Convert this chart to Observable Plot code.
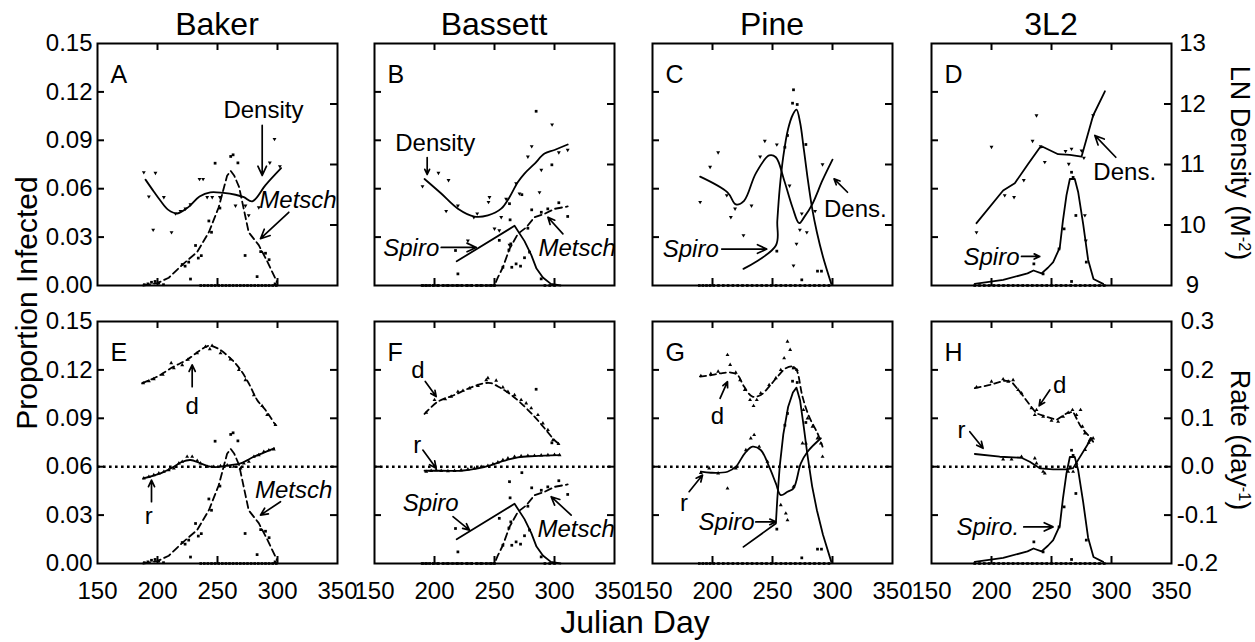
<!DOCTYPE html>
<html><head><meta charset="utf-8">
<script src="https://cdn.jsdelivr.net/npm/d3@7"></script>
<script src="https://cdn.jsdelivr.net/npm/@observablehq/plot@0.6"></script>
<style>
body{margin:0;background:#fff;font-family:"Liberation Sans",Arial,sans-serif;color:#000;}
#wrap{position:relative;width:1255px;height:642px;overflow:hidden;background:#fff;}
.lbl{position:absolute;white-space:nowrap;line-height:1;}
.title{position:absolute;width:240px;text-align:center;font-size:32px;line-height:1;top:8px;}
sup{font-size:0.6em;vertical-align:0.55em;line-height:0;}
</style></head><body><div id="wrap"></div>
<script>
// ---------- DATA (x = Julian day) ----------
const siteTitles = ["Baker", "Bassett", "Pine", "3L2"];
const xTickValues = [150, 200, 250, 300, 350];
const propTicks = [0, 0.03, 0.06, 0.09, 0.12, 0.15];
const densTicks = [9, 10, 11, 12, 13];
const rateTicks = [-0.2, -0.1, 0.0, 0.1, 0.2, 0.3];

// Baker (A, E)
const bakerDensLine = [[190,10.75],[197,10.55],[202.5,10.40],[209,10.25],[216.4,10.19],[226,10.30],[235,10.47],[244,10.54],[255,10.53],[265,10.50],[272,10.46],[279,10.39],[290,10.66],[303,10.94]];
const bakerDensPts = [[188.6,10.87],[198.3,10.86],[192.8,10.47],[196.4,9.92],[211.7,9.88],[205.3,10.46],[215,10.19],[219.2,10.23],[223.3,10.27],[227.5,10.34],[235,10.76],[238,10.76],[241.4,10.46],[245.6,10.46],[252,10.46],[265,10.32],[273.3,10.32],[276,10.16],[284.4,10.29],[293.6,11.03],[297.5,11.42],[302,10.97]];
const bakerMetschLine = [[188,0],[200,0.0015],[209.4,0.0048],[220.6,0.0128],[233,0.0207],[242.8,0.033],[251,0.0485],[258,0.068],[261,0.071],[264,0.068],[268,0.061],[276,0.033],[284.4,0.025],[291.4,0.015],[299.7,0.002]];
const bakerMetschPts = [[189,0.0005],[192,0.001],[195,0.002],[198,0.0025],[201,0.0015],[205,0.0005],[220.6,0.013],[223,0.012],[226,0.0145],[227.5,0.004],[231.7,0.0248],[234,0.017],[236.5,0.0185],[242.8,0.040],[245,0.033],[248,0.0758],[252,0.048],[261,0.080],[263,0.081],[267,0.076],[273,0.0186],[283,0.0055],[286,0.021],[290,0.020],[293,0.016],[298,0.001]];
const bakerZeros = [236,239,242,245,248,251,254,257,260,263,266,269,272,275,278,281,284,287,290,293,296,299];
const bakerDLine = [[187.2,0.1725],[199.7,0.186],[213.6,0.207],[224.7,0.221],[235.8,0.241],[242.8,0.2497],[249.7,0.245],[260.8,0.224],[269.2,0.2],[276,0.1725],[283,0.138],[290,0.117],[298.3,0.086]];
const bakerDPts = [[188.1,0.1725],[192.8,0.177],[196.9,0.181],[204.4,0.190],[211.4,0.214],[213.6,0.2036],[220.6,0.210],[225.3,0.221],[233,0.2346],[240,0.248],[243.6,0.243],[245.5,0.250],[252.5,0.2346],[260.8,0.222],[267.8,0.200],[273.3,0.179],[280.3,0.148],[287.2,0.1256],[291.4,0.107],[298.3,0.0863]];
const bakerRLine = [[188.1,-0.0241],[202.5,-0.0137],[213.6,0],[220.6,0.0103],[227.5,0.0138],[235.8,0.0069],[244.2,0],[251,-0.0005],[260.8,0.0034],[269.2,0.0069],[280.3,0.0206],[288.6,0.029],[297.2,0.038]];
const bakerRPts = [[188.6,-0.0241],[192.8,-0.0208],[196.9,-0.0173],[201.1,-0.0137],[205.3,-0.0103],[209.4,-0.0069],[213.6,-0.0034],[217.8,0.0069],[220.6,0.0103],[224.7,0.0206],[228.9,0.0206],[233.1,0.0124],[235.8,0.0069],[241.4,0],[246.9,0],[252.5,0.0014],[258.1,0.0028],[263.6,0],[269.2,-0.0034],[271.9,0.0069],[276.1,0.0103],[280.3,0.0206],[284.4,0.0241],[288.6,0.031],[292.8,0.034],[296.9,0.036]];

// Bassett (B, F)
const bassettDensLine = [[191.7,10.76],[205.6,10.52],[219.5,10.27],[233.3,10.14],[244.5,10.16],[255.6,10.27],[262.5,10.46],[269.5,10.71],[275,10.85],[283.3,11.01],[291.7,11.18],[300,11.24],[311,11.33]];
const bassettDensPts = [[190,10.64],[203.3,10.86],[211.7,10.74],[209.7,10.23],[219.5,10.32],[227.8,9.74],[232.8,10.13],[235.6,10.19],[245,10.38],[245.8,10.46],[250,9.94],[254,9.91],[255.6,10.13],[259.7,10.43],[262.5,9.67],[268,10.69],[270.8,10.52],[277.8,11.13],[281,11.30],[287.5,10.54],[289,10.91],[298,11.66],[303.6,11.20],[311,11.24]];
const bassettSpiroLine = [[218.5,0.015],[266.7,0.037],[275,0.0275],[280.6,0.019],[285,0.0105],[290.3,0.005],[297,0.001],[305,0]];
const bassettSpiroPts = [[217.5,0.0217],[219.5,0.0072],[254,0.028],[263.6,0.0258],[263,0.0407],[279.2,0.0207],[288.9,0.0041]];
const bassettMetschLine = [[189,0],[250,0],[252.8,0.005],[257,0.0113],[262.5,0.0227],[269.5,0.032],[276.4,0.036],[283.3,0.0423],[291.7,0.0444],[300,0.0475],[311,0.049]];
const bassettMetschPts = [[257,0.0113],[262,0.022],[264.4,0.0113],[268,0.0134],[271.7,0.012],[275,0.0172],[277.8,0.0355],[281,0.0469],[284.7,0.108],[289,0.0454],[294.4,0.0475],[297.8,0.0748],[303.6,0.0513],[311,0.0428],[262.5,0.0507],[272.8,0.0563]];
const bassettZeros = [190,193,196,199,203,207,211,215,219,223,227,231,235,239,243,247,250,292,296,300];
const bassettDLine = [[191.7,0.109],[202.8,0.1344],[216.7,0.1483],[230.6,0.164],[241.7,0.1725],[247.2,0.1725],[254.2,0.164],[263.9,0.1483],[272.2,0.131],[283.3,0.1034],[291.7,0.0794],[300,0.055],[303.3,0.048]];
const bassettDPts = [[193.1,0.1117],[200,0.138],[208.9,0.1394],[213.9,0.1448],[219.5,0.155],[223.7,0.157],[229.2,0.162],[236.2,0.167],[243.1,0.179],[244.5,0.183],[251.4,0.178],[257,0.164],[261.2,0.155],[266.7,0.148],[272.2,0.138],[276.4,0.131],[280.6,0.121],[286.2,0.107],[290.3,0.0897],[294.5,0.0759],[298.7,0.055],[303.3,0.047]];
const bassettRLine = [[191.7,-0.0084],[205.6,-0.0084],[222.2,-0.0084],[236.2,-0.0034],[247.2,0.0034],[258.3,0.0124],[269.5,0.0193],[283.3,0.022],[304.2,0.0241]];
const bassettRPts = [[193.1,-0.0104],[197.2,-0.0084],[201.4,-0.0069],[205.6,-0.0084],[211.2,-0.009],[216.7,-0.0084],[222.2,-0.0069],[227.8,-0.0055],[233.3,-0.0034],[238.9,0],[244.5,0.002],[248.7,0.0055],[252.8,0.009],[257,0.0138],[261.2,0.0173],[266.7,0.0206],[272.2,0.022],[277.8,0.0227],[283.3,0.0227],[288.9,0.0234],[294.5,0.0241],[300,0.0248],[304.2,0.0241]];

// Pine (C, G)
const pineDensLine = [[189.7,10.80],[212.5,10.54],[219.4,10.34],[226.3,10.40],[236,10.85],[247.2,11.15],[252.8,11.12],[259.7,10.74],[266.7,10.29],[272.2,10.03],[276.4,10.13],[283.3,10.35],[291.7,10.74],[300,11.08]];
const pineDensPts = [[189.7,10.38],[198,10.96],[204.7,11.20],[211.9,10.49],[215.3,10.13],[218.8,10.27],[225.8,9.83],[232.5,10.32],[239.7,11.13],[243.6,11.39],[253.6,11.33],[264.2,10.65],[270,9.69],[272.8,9.92],[274.4,10.19],[278.6,9.88],[285.5,10.23],[291.7,11.0],[267.5,9.33]];
const pineSpiroLine = [[225.8,0.0103],[252.8,0.0248],[254,0.04],[256,0.06],[259,0.08],[263,0.097],[267,0.106],[270,0.109],[273,0.101],[276,0.085],[279,0.068],[283,0.048],[287,0.033],[292,0.018],[299,0.001]];
const pineSpiroPts = [[267.5,0.1213],[266.7,0.113],[270.6,0.1122],[262.5,0.093],[260.3,0.0857],[277.8,0.0874],[253.6,0.0213],[274.4,0.0035],[287.5,0.0089],[290.8,0.0089]];
const pineZeros = [189,192,195,198,201,205,209,213,217,221,225,229,233,237,241,245,249,253,257,261,265,269,273,277,281,285,289,293,297];
const pineDLine = [[189.7,0.186],[200,0.1897],[206.9,0.193],[215.3,0.1945],[220.8,0.1897],[226.3,0.1655],[233.3,0.1448],[240.3,0.1483],[247.2,0.1655],[254.2,0.186],[261.1,0.2035],[266.7,0.207],[270,0.2],[275,0.1448],[280.5,0.1034],[287.5,0.069],[291.7,0.0414]];
const pineDPts = [[190.3,0.1876],[198.6,0.1918],[204.7,0.1966],[212.5,0.231],[214.7,0.2104],[219.4,0.1945],[223,0.179],[226.9,0.1587],[231.3,0.138],[234.2,0.1256],[236.9,0.138],[240.2,0.1518],[247.2,0.169],[252.8,0.183],[256.9,0.2],[259.7,0.2242],[262.5,0.2586],[264.7,0.2414],[267.5,0.2035],[270.3,0.2],[275.8,0.1173],[279.2,0.1],[283.3,0.0828],[287.5,0.0587],[291.7,0.0206]];
const pineRLine = [[190.3,-0.0104],[198.6,-0.0125],[212.5,-0.0104],[219.4,0],[226.9,0.0276],[233.3,0.0413],[240.2,0.0345],[247.2,0],[252.8,-0.0344],[256.9,-0.0587],[262.5,-0.0518],[267.5,-0.0448],[273.6,0.0069],[279.2,0.031],[290.3,0.0587]];
const pineRPts = [[190.3,-0.0125],[197.2,-0.0034],[204.7,-0.0137],[212.5,-0.0448],[219.4,-0.0034],[227.8,0.0345],[231.9,0.0587],[234.7,0.0655],[238.9,0.0413],[245.8,0.0103],[256.9,-0.0793],[261.1,-0.0965],[262.5,-0.1104],[267.5,-0.0414],[275,0.0483],[277.8,0.0483],[290.3,0.0483]];

// 3L2 (D, H)
const l2DensLine = [[187.5,10.03],[209.7,10.57],[219.4,10.69],[230.5,11.01],[240.3,11.28],[243,11.29],[255.5,11.17],[265.3,11.16],[275,11.13],[284.7,11.81],[294.5,12.21]];
const l2DensPts = [[187.5,9.88],[200,11.29],[211,10.49],[218.8,10.46],[226.9,10.74],[234.2,11.39],[237.5,11.81],[241,11.30],[244.4,11.04],[261.7,11.22],[264.4,11.01],[266.7,11.26],[275,11.23],[277,11.11],[277.8,10.16],[278.6,9.74],[284.7,11.81]];
const l2SpiroLine = [[186,0.001],[209.7,0.0035],[230,0.0075],[235,0.0093],[241.7,0.0075],[247,0.011],[251.4,0.0145],[256.9,0.0235],[259.5,0.04],[262.5,0.056],[265.3,0.066],[269.4,0.066],[272.2,0.058],[276.4,0.038],[280.5,0.016],[285,0.004],[293,0.001]];
const l2SpiroPts = [[266.7,0.0702],[268,0.067],[270.3,0.0434],[260.5,0.0351],[256.3,0.0227],[235.3,0.0134],[243,0.0072],[279,0.0145],[266.7,0.0025]];
const l2Zeros = [186,190,194,198,202,206,210,214,218,222,226,230,234,238,242,246,250,254,258,262,266,270,274,278,282,286,290,294];
const l2DLine = [[186.1,0.1622],[198.6,0.169],[211.1,0.178],[216.7,0.1758],[223.6,0.155],[231.9,0.1276],[237.5,0.11],[245.8,0.1034],[254.2,0.0966],[262.5,0.11],[268,0.1137],[273.6,0.0863],[277.8,0.0724],[281.9,0.062],[284.7,0.0517]];
const l2DPts = [[187.5,0.1642],[200,0.1758],[209.7,0.1808],[213.9,0.1758],[218,0.179],[222.2,0.1587],[225,0.1518],[233.3,0.1208],[236.1,0.107],[237.5,0.1173],[243,0.1034],[250,0.0952],[255.5,0.093],[259.7,0.1034],[263.9,0.1117],[267.5,0.1173],[270.8,0.107],[274.2,0.1173],[275.8,0.0828],[277.8,0.069],[281.9,0.055],[284.7,0.0587]];
const l2RLine = [[186.1,0.0262],[206.9,0.0206],[225,0.0185],[231.9,0.0103],[240.3,-0.0034],[251.4,-0.0055],[262.5,-0.0055],[268,-0.003],[283.3,0.0587]];
const l2RPts = [[209.7,0.0152],[216.7,0.0152],[225,0.0206],[236.1,0.0173],[237.5,0.0069],[243,-0.0104],[244.4,-0.0137],[263.9,-0.0104],[268,-0.0104],[270.8,0.0069],[278,0.035],[281,0.05]];

// Annotations (x = day, y = proportion-axis value)
const annotA = [{t:"Density",x:288.3,y:0.1085,i:false},{t:"Metsch",x:317.1,y:0.0527,i:true}];
const arrowsA = [{x1:287.25,y1:0.0992,x2:287.25,y2:0.0682},{x1:309.4,y1:0.0454,x2:285.8,y2:0.029}];
const annotB = [{t:"Density",x:200.6,y:0.088,i:false},{t:"Spiro",x:180.6,y:0.0229,i:true},{t:"Metsch",x:318.9,y:0.0229,i:true}];
const arrowsB = [{x1:193.9,y1:0.0793,x2:193.9,y2:0.0688},{x1:205.6,y1:0.0236,x2:234.8,y2:0.0236},{x1:307,y1:0.032,x2:294.5,y2:0.0423}];
const annotC = [{t:"Spiro",x:181.9,y:0.0223,i:true},{t:"Dens.",x:319,y:0.0471,i:false}];
const arrowsC = [{x1:207.7,y1:0.0226,x2:245.2,y2:0.0226},{x1:312.5,y1:0.0578,x2:301.3,y2:0.0661}];
const annotD = [{t:"Spiro",x:200,y:0.0176,i:true},{t:"Dens.",x:311,y:0.0702,i:false}];
const arrowsD = [{x1:225,y1:0.018,x2:240.2,y2:0.018},{x1:303.6,y1:0.0795,x2:286.1,y2:0.093}];
const annotE = [{t:"d",x:228.9,y:0.0972,i:false},{t:"r",x:192.8,y:0.029,i:false},{t:"Metsch",x:313.5,y:0.0455,i:true}];
const arrowsE = [{x1:228.9,y1:0.1096,x2:228.9,y2:0.1231},{x1:195,y1:0.0383,x2:195,y2:0.0517},{x1:302.5,y1:0.0383,x2:285.8,y2:0.030}];
const annotF = [{t:"d",x:186.2,y:0.12,i:false},{t:"r",x:185.6,y:0.0734,i:false},{t:"Spiro",x:196.8,y:0.0372,i:true},{t:"Metsch",x:318,y:0.0211,i:true}];
const arrowsF = [{x1:192.3,y1:0.1128,x2:201.4,y2:0.1035},{x1:190.3,y1:0.0703,x2:201.4,y2:0.059},{x1:215.4,y1:0.029,x2:229.2,y2:0.0207},{x1:313.9,y1:0.030,x2:297.2,y2:0.0414}];
const annotG = [{t:"d",x:204.2,y:0.091,i:false},{t:"r",x:176.3,y:0.0372,i:false},{t:"Spiro",x:211.7,y:0.0258,i:true}];
const arrowsG = [{x1:206.3,y1:0.1024,x2:212.5,y2:0.1127},{x1:180.5,y1:0.0445,x2:191.7,y2:0.0548},{x1:236.1,y1:0.0258,x2:252.8,y2:0.0258}];
const annotH = [{t:"d",x:256.9,y:0.1107,i:false},{t:"r",x:175,y:0.0828,i:false},{t:"Spiro.",x:196.9,y:0.0227,i:true}];
const arrowsH = [{x1:248.6,y1:0.1076,x2:239.7,y2:0.0977},{x1:181.9,y1:0.0817,x2:193,y2:0.0714},{x1:226.9,y1:0.0227,x2:251.3,y2:0.0227}];

// ---------- helpers ----------
const densToP = d => (d - 9) / 4 * 0.15;
const rateToP = r => (r + 0.2) / 0.5 * 0.15;
const conv = {p: v => v, dens: densToP, rate: rateToP};
const downTri = {draw(ctx, size){ const y = Math.sqrt(size / (3 * Math.sqrt(3))); ctx.moveTo(0, 2*y); ctx.lineTo(-Math.sqrt(3)*y, -y); ctx.lineTo(Math.sqrt(3)*y, -y); ctx.closePath(); }};
const symbols = {down: downTri, up: d3.symbolTriangle, square: d3.symbolSquare};

const FW = 240, FH = 242, ML = 70, MR = 70, MT = 10, MB = 45;
const FONT = '"Liberation Sans", Arial, Helvetica, sans-serif';

function panel(spec){
  const marks = [];
  if (spec.row === 1) marks.push(Plot.ruleY([rateToP(0)], {y: d => d, stroke: "black", strokeWidth: 2.6, strokeDasharray: "2.6,3.4"}));
  for (const L of spec.lines){
    marks.push(Plot.line(L.data, {x: d => d[0], y: d => conv[L.kind](d[1]), stroke: "black", strokeWidth: 1.8,
      curve: L.curve || "linear", strokeDasharray: L.dash || null}));
  }
  for (const P of spec.pts){
    marks.push(Plot.dot(P.data, {x: d => d[0], y: d => conv[P.kind](d[1]), symbol: symbols[P.sym], r: P.sym === "square" ? 1.55 : 1.45, fill: "black", stroke: "none"}));
  }
  marks.push(Plot.dot(spec.zeros, {x: d => d, y: () => 0, symbol: d3.symbolSquare, r: 1.5, fill: "black"}));
  // annotations
  marks.push(Plot.text(spec.annots.filter(a => !a.i), {x: "x", y: "y", text: "t", fontSize: 24, fill: "black"}));
  marks.push(Plot.text(spec.annots.filter(a => a.i), {x: "x", y: "y", text: "t", fontSize: 24, fontStyle: "italic", fill: "black"}));
  marks.push(Plot.arrow(spec.arrows, {x1: "x1", y1: "y1", x2: "x2", y2: "y2", stroke: "black", strokeWidth: 1.7, headLength: 9, headAngle: 50}));
  // inward ticks
  const leftT = [0.03, 0.06, 0.09, 0.12];
  const rightT = spec.row === 0 ? [10, 11, 12].map(densToP) : [-0.1, 0, 0.1, 0.2].map(rateToP);
  marks.push(Plot.tickY(leftT, {y: d => d, insetRight: FW - 7, strokeWidth: 2, stroke: "black"}));
  marks.push(Plot.tickY(rightT, {y: d => d, insetLeft: FW - 7, strokeWidth: 2, stroke: "black"}));
  marks.push(Plot.tickX([200, 250, 300], {x: d => d, insetBottom: FH - 7, strokeWidth: 2, stroke: "black"}));
  marks.push(Plot.tickX([200, 250, 300], {x: d => d, insetTop: FH - 7, strokeWidth: 2, stroke: "black"}));
  marks.push(Plot.frame({stroke: "black", strokeWidth: 2}));
  marks.push(Plot.text([spec.letter], {text: d => d, frameAnchor: "top-left", dx: 13, dy: 22, textAnchor: "start", fontSize: 25}));
  // labelled axes
  if (spec.col === 0) marks.push(Plot.axisY(propTicks, {anchor: "left", tickSize: 0, tickPadding: 5, tickFormat: d3.format(".2f"), fontSize: 24}));
  if (spec.col === 3){
    if (spec.row === 0){
      const m = new Map(densTicks.map(d => [densToP(d), String(d)]));
      marks.push(Plot.axisY(densTicks.map(densToP), {anchor: "right", tickSize: 0, tickPadding: 21, textAnchor: "middle", tickFormat: p => m.get(p), fontSize: 24}));
    } else {
      const m = new Map(rateTicks.map(r => [rateToP(r), (r < 0 ? "-" : "") + Math.abs(r).toFixed(1)]));
      marks.push(Plot.axisY(rateTicks.map(rateToP), {anchor: "right", tickSize: 0, tickPadding: 26, textAnchor: "middle", tickFormat: p => m.get(p), fontSize: 24}));
    }
  }
  if (spec.row === 1) marks.push(Plot.axisX(xTickValues, {anchor: "bottom", tickSize: 0, tickPadding: 18, fontSize: 24}));

  const svg = Plot.plot({
    width: FW + ML + MR, height: FH + MT + MB,
    marginLeft: ML, marginRight: MR, marginTop: MT, marginBottom: MB,
    x: {domain: [150, 350], axis: null},
    y: {domain: [0, 0.15], axis: null},
    style: {fontFamily: FONT, fontSize: "24px", overflow: "visible", background: "transparent", color: "black"},
    marks
  });
  svg.style.position = "absolute";
  svg.style.left = (spec.left - ML) + "px";
  svg.style.top = (spec.top - MT) + "px";
  return svg;
}

const lefts = [97, 374, 652, 931];
const tops = [43, 321];
const specs = [
  {letter:"A", row:0, col:0, lines:[{data:bakerDensLine,kind:"dens",curve:"catmull-rom"},{data:bakerMetschLine,kind:"p",dash:"7,4"}],
   pts:[{data:bakerDensPts,kind:"dens",sym:"down"},{data:bakerMetschPts,kind:"p",sym:"square"}], zeros:bakerZeros, annots:annotA, arrows:arrowsA},
  {letter:"B", row:0, col:1, lines:[{data:bassettDensLine,kind:"dens",curve:"catmull-rom"},{data:bassettSpiroLine,kind:"p"},{data:bassettMetschLine,kind:"p",dash:"7,4"}],
   pts:[{data:bassettDensPts,kind:"dens",sym:"down"},{data:bassettSpiroPts,kind:"p",sym:"square"},{data:bassettMetschPts,kind:"p",sym:"square"}], zeros:bassettZeros, annots:annotB, arrows:arrowsB},
  {letter:"C", row:0, col:2, lines:[{data:pineDensLine,kind:"dens",curve:"catmull-rom"},{data:pineSpiroLine,kind:"p",curve:"catmull-rom"}],
   pts:[{data:pineDensPts,kind:"dens",sym:"down"},{data:pineSpiroPts,kind:"p",sym:"square"}], zeros:pineZeros, annots:annotC, arrows:arrowsC},
  {letter:"D", row:0, col:3, lines:[{data:l2DensLine,kind:"dens"},{data:l2SpiroLine,kind:"p"}],
   pts:[{data:l2DensPts,kind:"dens",sym:"down"},{data:l2SpiroPts,kind:"p",sym:"square"}], zeros:l2Zeros, annots:annotD, arrows:arrowsD},
  {letter:"E", row:1, col:0, lines:[{data:bakerDLine,kind:"rate",dash:"6,4",curve:"catmull-rom"},{data:bakerRLine,kind:"rate",curve:"catmull-rom"},{data:bakerMetschLine,kind:"p",dash:"7,4"}],
   pts:[{data:bakerDPts,kind:"rate",sym:"up"},{data:bakerRPts,kind:"rate",sym:"up"},{data:bakerMetschPts,kind:"p",sym:"square"}], zeros:bakerZeros, annots:annotE, arrows:arrowsE},
  {letter:"F", row:1, col:1, lines:[{data:bassettDLine,kind:"rate",dash:"6,4",curve:"catmull-rom"},{data:bassettRLine,kind:"rate",curve:"catmull-rom"},{data:bassettSpiroLine,kind:"p"},{data:bassettMetschLine,kind:"p",dash:"7,4"}],
   pts:[{data:bassettDPts,kind:"rate",sym:"up"},{data:bassettRPts,kind:"rate",sym:"up"},{data:bassettSpiroPts,kind:"p",sym:"square"},{data:bassettMetschPts,kind:"p",sym:"square"}], zeros:bassettZeros, annots:annotF, arrows:arrowsF},
  {letter:"G", row:1, col:2, lines:[{data:pineDLine,kind:"rate",dash:"6,4",curve:"catmull-rom"},{data:pineRLine,kind:"rate",curve:"catmull-rom"},{data:pineSpiroLine,kind:"p"}],
   pts:[{data:pineDPts,kind:"rate",sym:"up"},{data:pineRPts,kind:"rate",sym:"up"},{data:pineSpiroPts,kind:"p",sym:"square"}], zeros:pineZeros, annots:annotG, arrows:arrowsG},
  {letter:"H", row:1, col:3, lines:[{data:l2DLine,kind:"rate",dash:"6,4"},{data:l2RLine,kind:"rate"},{data:l2SpiroLine,kind:"p"}],
   pts:[{data:l2DPts,kind:"rate",sym:"up"},{data:l2RPts,kind:"rate",sym:"up"},{data:l2SpiroPts,kind:"p",sym:"square"}], zeros:l2Zeros, annots:annotH, arrows:arrowsH}
];

const wrap = document.getElementById("wrap");
for (const s of specs){
  s.left = lefts[s.col]; s.top = tops[s.row];
  wrap.appendChild(panel(s));
}
// titles and axis labels
siteTitles.forEach((t, i) => {
  const d = document.createElement("div");
  d.className = "title"; d.textContent = t; d.style.left = lefts[i] + "px";
  wrap.appendChild(d);
});
function label(html, x, y, size, rot){
  const d = document.createElement("div");
  d.className = "lbl"; d.innerHTML = html;
  d.style.fontSize = size + "px";
  d.style.left = x + "px"; d.style.top = y + "px";
  d.style.transform = "translate(-50%,-50%)" + (rot ? ` rotate(${rot}deg)` : "");
  wrap.appendChild(d);
}
label("Proportion Infected", 27, 303, 30, -90);
label("LN Density (M<sup>-2</sup>)", 1239, 163, 27, 90);
label("Rate (day<sup>-1</sup>)", 1239, 440, 27, 90);
label("Julian Day", 635, 622, 32, 0);
</script></body></html>
